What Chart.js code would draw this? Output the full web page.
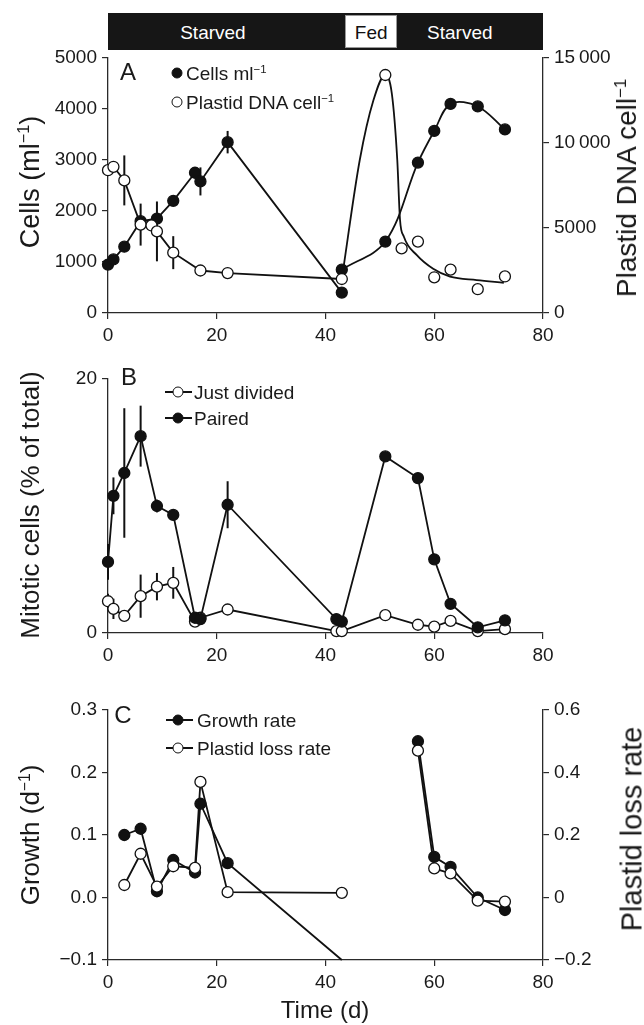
<!DOCTYPE html>
<html>
<head>
<meta charset="utf-8">
<script src="https://cdn.jsdelivr.net/npm/chart.js@4.4.1/dist/chart.umd.min.js"></script>
<style>
  html, body { margin:0; padding:0; background:#fff; }
  body { position:relative; width:644px; height:1025px; overflow:hidden;
         font-family:"Liberation Sans", Arial, Helvetica, sans-serif; color:#1a1a1a; }
  canvas { position:absolute; left:0; }
  .txt { position:absolute; white-space:nowrap; line-height:1; transform:translate(-50%,-50%); }
  .rot { position:absolute; white-space:nowrap; line-height:1; transform:translate(-50%,-50%) rotate(-90deg); font-size:26px; }
  .lg { position:absolute; white-space:nowrap; line-height:1; font-size:19px; transform:translateY(-50%); }
  sup { font-size:0.6em; vertical-align:0; position:relative; top:-0.6em; }
  .dot { position:absolute; width:11px; height:11px; border-radius:50%; box-sizing:border-box; border:1.4px solid #111; transform:translate(-50%,-50%); }
  .seg { position:absolute; height:2px; background:#111; transform:translateY(-50%); }
  .bar { position:absolute; background:#161616; }
  .fed { position:absolute; background:#fff; border:1px solid #999; box-sizing:border-box; }
</style>
</head>
<body>
<canvas id="cA" width="644" height="350" style="top:0px"></canvas>
<canvas id="cB" width="644" height="320" style="top:350px"></canvas>
<canvas id="cC" width="644" height="355" style="top:670px"></canvas>

<div id="topbar"></div>

<!-- axis titles -->
<div class="rot" style="left:30px; top:182px; font-size:27px;">Cells (ml<sup>−1</sup>)</div>
<div class="rot" style="left:627px; top:188px; font-size:28px;">Plastid DNA cell<sup>−1</sup></div>
<div class="rot" style="left:30px; top:505px;">Mitotic cells (% of total)</div>
<div class="rot" style="left:30px; top:835px;">Growth (d<sup>−1</sup>)</div>
<div class="rot" style="left:632px; top:829px; font-size:29px;">Plastid loss rate</div>
<div class="txt" style="left:325px; top:1010px; font-size:24px;">Time (d)</div>

<!-- panel letters -->
<div class="txt" style="left:128px; top:72px; font-size:24px;">A</div>
<div class="txt" style="left:129px; top:377px; font-size:24px;">B</div>
<div class="txt" style="left:123px; top:715px; font-size:24px;">C</div>

<!-- legend A -->
<div class="dot" style="left:177px; top:73px; background:#111;"></div>
<div class="lg" style="left:186px; top:73px;">Cells ml<sup>−1</sup></div>
<div class="dot" style="left:177px; top:101.5px; background:#fff;"></div>
<div class="lg" style="left:186px; top:101.5px;">Plastid DNA cell<sup>−1</sup></div>

<!-- legend B -->
<div class="seg" style="left:165px; width:27px; top:391.7px;"></div>
<div class="dot" style="left:178px; top:391.7px; background:#fff;"></div>
<div class="lg" style="left:194px; top:391.7px;">Just divided</div>
<div class="seg" style="left:165px; width:27px; top:418.3px;"></div>
<div class="dot" style="left:178px; top:418.3px; background:#111;"></div>
<div class="lg" style="left:194px; top:418.3px;">Paired</div>

<!-- legend C -->
<div class="seg" style="left:166px; width:27px; top:720px;"></div>
<div class="dot" style="left:178px; top:720px; background:#111;"></div>
<div class="lg" style="left:197px; top:720px;">Growth rate</div>
<div class="seg" style="left:166px; width:27px; top:747.7px;"></div>
<div class="dot" style="left:178px; top:747.7px; background:#fff;"></div>
<div class="lg" style="left:197px; top:747.7px;">Plastid loss rate</div>

<script>
// ---------------- data ----------------
const xTicks = [0, 20, 40, 60, 80];
const xTickLabels = ['0', '20', '40', '60', '80'];

// feeding periods (top bar)
const periodLabels = ['Starved', 'Fed', 'Starved'];
const periodBounds = [0, 43.6, 53.1, 80];
const periodLabelX = [19.3, 48.4, 64.7];

// Panel A: cells ml-1 (left axis)
const cellsTicks = [0, 1000, 2000, 3000, 4000, 5000];
const cellsTickLabels = ['0', '1000', '2000', '3000', '4000', '5000'];
const cellsX = [0, 1, 3, 6, 9, 12, 16, 17, 22, 43];
const cellsY = [950, 1050, 1300, 1800, 1850, 2200, 2750, 2580, 3350, 400];
const cellsLateX = [43, 51, 57, 60, 63, 68, 73];
const cellsLateY = [850, 1400, 2950, 3570, 4100, 4050, 3600];
const cellsErrX = [17, 22];
const cellsErrY = [2580, 3350];
const cellsErr = [275, 220];

// Panel A: plastid DNA cell-1 (right axis)
const plastidTicks = [0, 5000, 10000, 15000];
const plastidTickLabels = ['0', '5000', '10\u2009000', '15\u2009000'];
const plastidX = [0, 1, 3, 6, 8, 9, 12, 17, 22, 43];
const plastidY = [8400, 8600, 7800, 5200, 5150, 4800, 3550, 2500, 2350, 2000];
const plastidSoloX = [51, 54, 57, 60, 63, 68, 73];
const plastidSoloY = [14000, 3800, 4200, 2100, 2550, 1400, 2150];
const plastidFitX = [43, 46.3, 48.8, 51, 52.2, 53.2, 53.7, 54.4, 56.8, 59.8, 62.9, 67.8, 72.8];
const plastidFitY = [2000, 9000, 12500, 14000, 12900, 9000, 5500, 4500, 3400, 2600, 2140, 1940, 1780];
const plastidErrX = [3, 6, 9, 12];
const plastidErrY = [7800, 5200, 4800, 3550];
const plastidErr = [1470, 1235, 1760, 970];

// Panel B: mitotic cells (% of total)
const mitoticTicks = [0, 20];
const mitoticTickLabels = ['0', '20'];
const mitoticX = [0, 1, 3, 6, 9, 12, 16, 17, 22, 42, 43, 51, 57, 60, 63, 68, 73];
const pairedY = [5.6, 10.8, 12.6, 15.5, 10.0, 9.3, 1.2, 1.1, 10.1, 1.1, 0.9, 13.9, 12.2, 5.8, 2.3, 0.45, 1.0];
const dividedY = [2.5, 1.9, 1.35, 2.9, 3.65, 3.95, 0.9, 1.2, 1.85, 0.15, 0.15, 1.4, 0.65, 0.5, 0.95, 0.15, 0.3];
const pairedErrX = [0, 1, 3, 6, 9, 22];
const pairedErrY = [5.6, 10.8, 12.6, 15.5, 10.0, 10.1];
const pairedErr = [1.4, 1.45, 5.1, 2.4, 0.5, 1.85];
const dividedErrX = [0, 1, 6, 9, 12];
const dividedErrY = [2.5, 1.9, 2.9, 3.65, 3.95];
const dividedErr = [0.6, 0.8, 1.7, 1.08, 1.25];

// Panel C: growth rate (left) and plastid loss rate (right)
const growthTicks = [-0.1, 0, 0.1, 0.2, 0.3];
const growthTickLabels = ['\u22120.1', '0.0', '0.1', '0.2', '0.3'];
const lossTicks = [-0.2, 0, 0.2, 0.4, 0.6];
const lossTickLabels = ['\u22120.2', '0', '0.2', '0.4', '0.6'];
const rateX = [3, 6, 9, 12, 16, 17, 22, 43, 57, 60, 63, 68, 73];
const growthY = [0.10, 0.11, 0.01, 0.06, 0.04, 0.15, 0.055, -0.1, 0.25, 0.065, 0.049, 0.0, -0.02];
const lossY = [0.04, 0.14, 0.035, 0.10, 0.095, 0.37, 0.017, 0.015, 0.47, 0.093, 0.077, -0.01, -0.013];
const rateGapAfter = 43;

// ---------------- helpers ----------------
const INK = '#111';
const AXIS = '#2a2a2a';
Chart.defaults.font.family = '"Liberation Sans", Arial, sans-serif';
Chart.defaults.color = '#1a1a1a';

function pts(xs, ys) { return xs.map((x, i) => ({ x: x, y: ys[i] })); }

function axis(pos, min, max, values, labels, size) {
  return {
    type: 'linear', position: pos, min: min, max: max,
    afterBuildTicks: s => { s.ticks = values.map(v => ({ value: v })); },
    afterFit: s => { if (pos === 'bottom') s.height = size; else s.width = size; },
    ticks: { font: { size: 19 }, color: '#1a1a1a', padding: 5, autoSkip: false, maxRotation: 0,
             callback: (v, i) => labels[i] },
    grid: { display: true, drawOnChartArea: false, drawTicks: true, tickLength: 6, color: AXIS, lineWidth: 1.2 },
    border: { display: true, color: AXIS, width: 1.3 }
  };
}

function ds(data, opts) {
  return Object.assign({
    data: data, borderColor: INK, borderWidth: 1.8, pointRadius: 5.5, pointHoverRadius: 5.5,
    pointBorderWidth: 1.3, pointBorderColor: INK, pointBackgroundColor: INK,
    tension: 0, clip: false, showLine: true, fill: false
  }, opts || {});
}

function errPlugin(bars) {
  return {
    id: 'errbars',
    beforeDatasetsDraw(chart) {
      const ctx = chart.ctx, xs = chart.scales.x;
      ctx.save(); ctx.strokeStyle = INK; ctx.lineWidth = 2;
      bars.forEach(b => {
        const ys = chart.scales[b.axis];
        b.x.forEach((x, i) => {
          const px = xs.getPixelForValue(x);
          ctx.beginPath();
          ctx.moveTo(px, ys.getPixelForValue(b.y[i] - b.e[i]));
          ctx.lineTo(px, ys.getPixelForValue(b.y[i] + b.e[i]));
          ctx.stroke();
        });
      });
      ctx.restore();
    }
  };
}

function baseOptions(padTop, padRight, scales) {
  return {
    responsive: false, animation: false, events: [],
    layout: { padding: { top: padTop, left: 0, right: padRight, bottom: 0 } },
    plugins: { legend: { display: false }, tooltip: { enabled: false } },
    scales: scales
  };
}

// ---------------- Panel A ----------------
const chartA = new Chart(document.getElementById('cA'), {
  type: 'line',
  data: { datasets: [
    ds(pts(plastidSoloX, plastidSoloY), { yAxisID: 'y2', showLine: false, pointBackgroundColor: '#fff' }),
    ds(pts(plastidX, plastidY), { yAxisID: 'y2', pointBackgroundColor: '#fff' }),
    ds(pts(plastidFitX, plastidFitY), { yAxisID: 'y2', pointRadius: 0, cubicInterpolationMode: 'monotone' }),
    ds(pts(cellsX, cellsY), { yAxisID: 'y' }),
    ds(pts(cellsLateX, cellsLateY), { yAxisID: 'y', tension: 0.35 })
  ]},
  options: baseOptions(58, 0, {
    x: axis('bottom', 0, 80, xTicks, xTickLabels, 37),
    y: axis('left', 0, 5000, cellsTicks, cellsTickLabels, 108),
    y2: axis('right', 0, 15000, plastidTicks, plastidTickLabels, 101)
  }),
  plugins: [errPlugin([
    { axis: 'y', x: cellsErrX, y: cellsErrY, e: cellsErr },
    { axis: 'y2', x: plastidErrX, y: plastidErrY, e: plastidErr }
  ])]
});

// ---------------- Panel B ----------------
new Chart(document.getElementById('cB'), {
  type: 'line',
  data: { datasets: [
    ds(pts(mitoticX, pairedY), { yAxisID: 'y' }),
    ds(pts(mitoticX, dividedY), { yAxisID: 'y', pointBackgroundColor: '#fff' })
  ]},
  options: baseOptions(29, 101, {
    x: axis('bottom', 0, 80, xTicks, xTickLabels, 37),
    y: axis('left', 0, 20, mitoticTicks, mitoticTickLabels, 108)
  }),
  plugins: [errPlugin([
    { axis: 'y', x: pairedErrX, y: pairedErrY, e: pairedErr },
    { axis: 'y', x: dividedErrX, y: dividedErrY, e: dividedErr }
  ])]
});

// ---------------- Panel C ----------------
const gapSeg = { borderColor: c => (c.p0.parsed.x === rateGapAfter ? 'rgba(0,0,0,0)' : INK) };
new Chart(document.getElementById('cC'), {
  type: 'line',
  data: { datasets: [
    ds(pts(rateX, lossY), { yAxisID: 'y2', pointBackgroundColor: '#fff', segment: gapSeg }),
    ds(pts(rateX, growthY), { yAxisID: 'y', segment: gapSeg,
       pointRadius: c => (c.raw && c.raw.y <= -0.1 ? 0 : 5.5) })
  ]},
  options: baseOptions(40, 0, {
    x: axis('bottom', 0, 80, xTicks, xTickLabels, 65),
    y: axis('left', -0.1, 0.3, growthTicks, growthTickLabels, 108),
    y2: axis('right', -0.2, 0.6, lossTicks, lossTickLabels, 101)
  }),
  plugins: []
});

// ---------------- top feeding bar ----------------
(function () {
  const xs = chartA.scales.x;
  const bar = document.getElementById('topbar');
  const top = 13, h = 37;
  const l = xs.getPixelForValue(periodBounds[0]);
  const r = xs.getPixelForValue(periodBounds[periodBounds.length - 1]);
  let html = '<div class="bar" style="left:' + l + 'px;top:' + top + 'px;width:' + (r - l) + 'px;height:' + h + 'px;"></div>';
  periodLabels.forEach((lab, i) => {
    const a = xs.getPixelForValue(periodBounds[i]);
    const b = xs.getPixelForValue(periodBounds[i + 1]);
    const fed = lab === 'Fed';
    if (fed) {
      html += '<div class="fed" style="left:' + a + 'px;top:' + (top + 2) + 'px;width:' + (b - a) + 'px;height:' + (h - 4) + 'px;"></div>';
    }
    html += '<div class="txt" style="left:' + xs.getPixelForValue(periodLabelX[i]) + 'px;top:' + (top + h / 2) +
            'px;font-size:19px;color:' + (fed ? '#111' : '#fff') + ';">' + lab + '</div>';
  });
  bar.innerHTML = html;
})();
</script>
</body>
</html>
